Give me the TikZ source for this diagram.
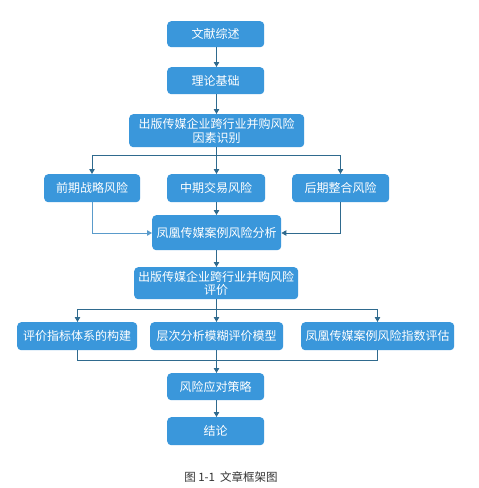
\documentclass[tikz,border=0pt]{standalone}
\usepackage{fontspec}
\newfontfamily\cjk{Noto Sans CJK SC}
\usetikzlibrary{arrows.meta}
\definecolor{boxblue}{HTML}{3A97DB}
\definecolor{linedark}{HTML}{2F6A8E}
\definecolor{linelight}{HTML}{5A9BCB}
\tikzset{
  bx/.style={fill=boxblue, draw=none, rounded corners=4pt, text=white, font=\cjk\fontsize{12}{13.5}\selectfont, align=center, inner sep=0pt, anchor=north west},
  ln/.style={draw=linedark, line width=0.9pt},
  lnl/.style={draw=linelight, line width=0.9pt},
  arr/.style={-{Triangle[length=5pt,width=5.5pt]}}
}
\newcommand{\bxn}[6]{\node[bx, minimum width=#4pt-#2pt, minimum height=#5pt-#3pt] (#1) at (#2,#3) {#6};}
\begin{document}
\begin{tikzpicture}[x=1pt,y=-1pt]
\useasboundingbox (0,0) rectangle (479,488);
\fill[white] (0,0) rectangle (479,488);
\bxn{a}{167}{21}{264}{47}{文献综述}
\bxn{b}{167}{67}{264}{94}{理论基础}
\bxn{c}{129}{114}{304}{147}{出版传媒企业跨行业并购风险\\因素识别}
\bxn{d1}{44}{174}{140}{202}{前期战略风险}
\bxn{d2}{167}{174}{265}{202}{中期交易风险}
\bxn{d3}{292}{174}{389}{202}{后期整合风险}
\bxn{e}{152}{215}{281}{250}{凤凰传媒案例风险分析}
\bxn{f}{134}{267}{298}{299}{出版传媒企业跨行业并购风险\\评价}
\bxn{g1}{17}{322}{137}{350}{评价指标体系的构建}
\bxn{g2}{150}{322}{283}{350}{层次分析模糊评价模型}
\bxn{g3}{301}{322}{454}{350}{凤凰传媒案例风险指数评估}
\bxn{h}{167}{373}{264}{400}{风险应对策略}
\bxn{i}{167}{417}{264}{445}{结论}
\node[font=\cjk\fontsize{11.5}{13}\selectfont, text=black!80] (cap) at (231,477) {图 1-1\ \ 文章框架图};
\coordinate (x1) at (216.5,0);
\draw[ln,arr] (x1 |- a.south) -- (x1 |- b.north);
\draw[ln,arr] (x1 |- b.south) -- (x1 |- c.north);
\coordinate (s1) at (216.5,155);
\draw[ln] (x1 |- c.south) -- (s1);
\draw[ln,arr] (s1) -- (x1 |- d2.north);
\draw[ln,arr] (s1) -| (92,174);
\draw[ln,arr] (s1) -| (340.5,174);
\draw[ln,arr] (x1 |- d2.south) -- (x1 |- e.north);
\draw[lnl,arr] (92,202) |- (e.west |- 0,233);
\draw[ln,arr] (340.5,202) |- (e.east |- 0,233);
\draw[ln,arr] (x1 |- e.south) -- (x1 |- f.north);
\coordinate (s2) at (216.5,309);
\draw[ln] (x1 |- f.south) -- (s2);
\draw[ln,arr] (s2) -- (x1 |- g2.north);
\draw[ln,arr] (s2) -| (77.5,322);
\draw[ln,arr] (s2) -| (377.5,322);
\coordinate (m2) at (216.5,360);
\draw[ln] (77.5,350) |- (m2);
\draw[ln] (377.5,350) |- (m2);
\draw[ln,arr] (x1 |- g2.south) -- (x1 |- h.north);
\draw[ln,arr] (x1 |- h.south) -- (x1 |- i.north);
\end{tikzpicture}
\end{document}
